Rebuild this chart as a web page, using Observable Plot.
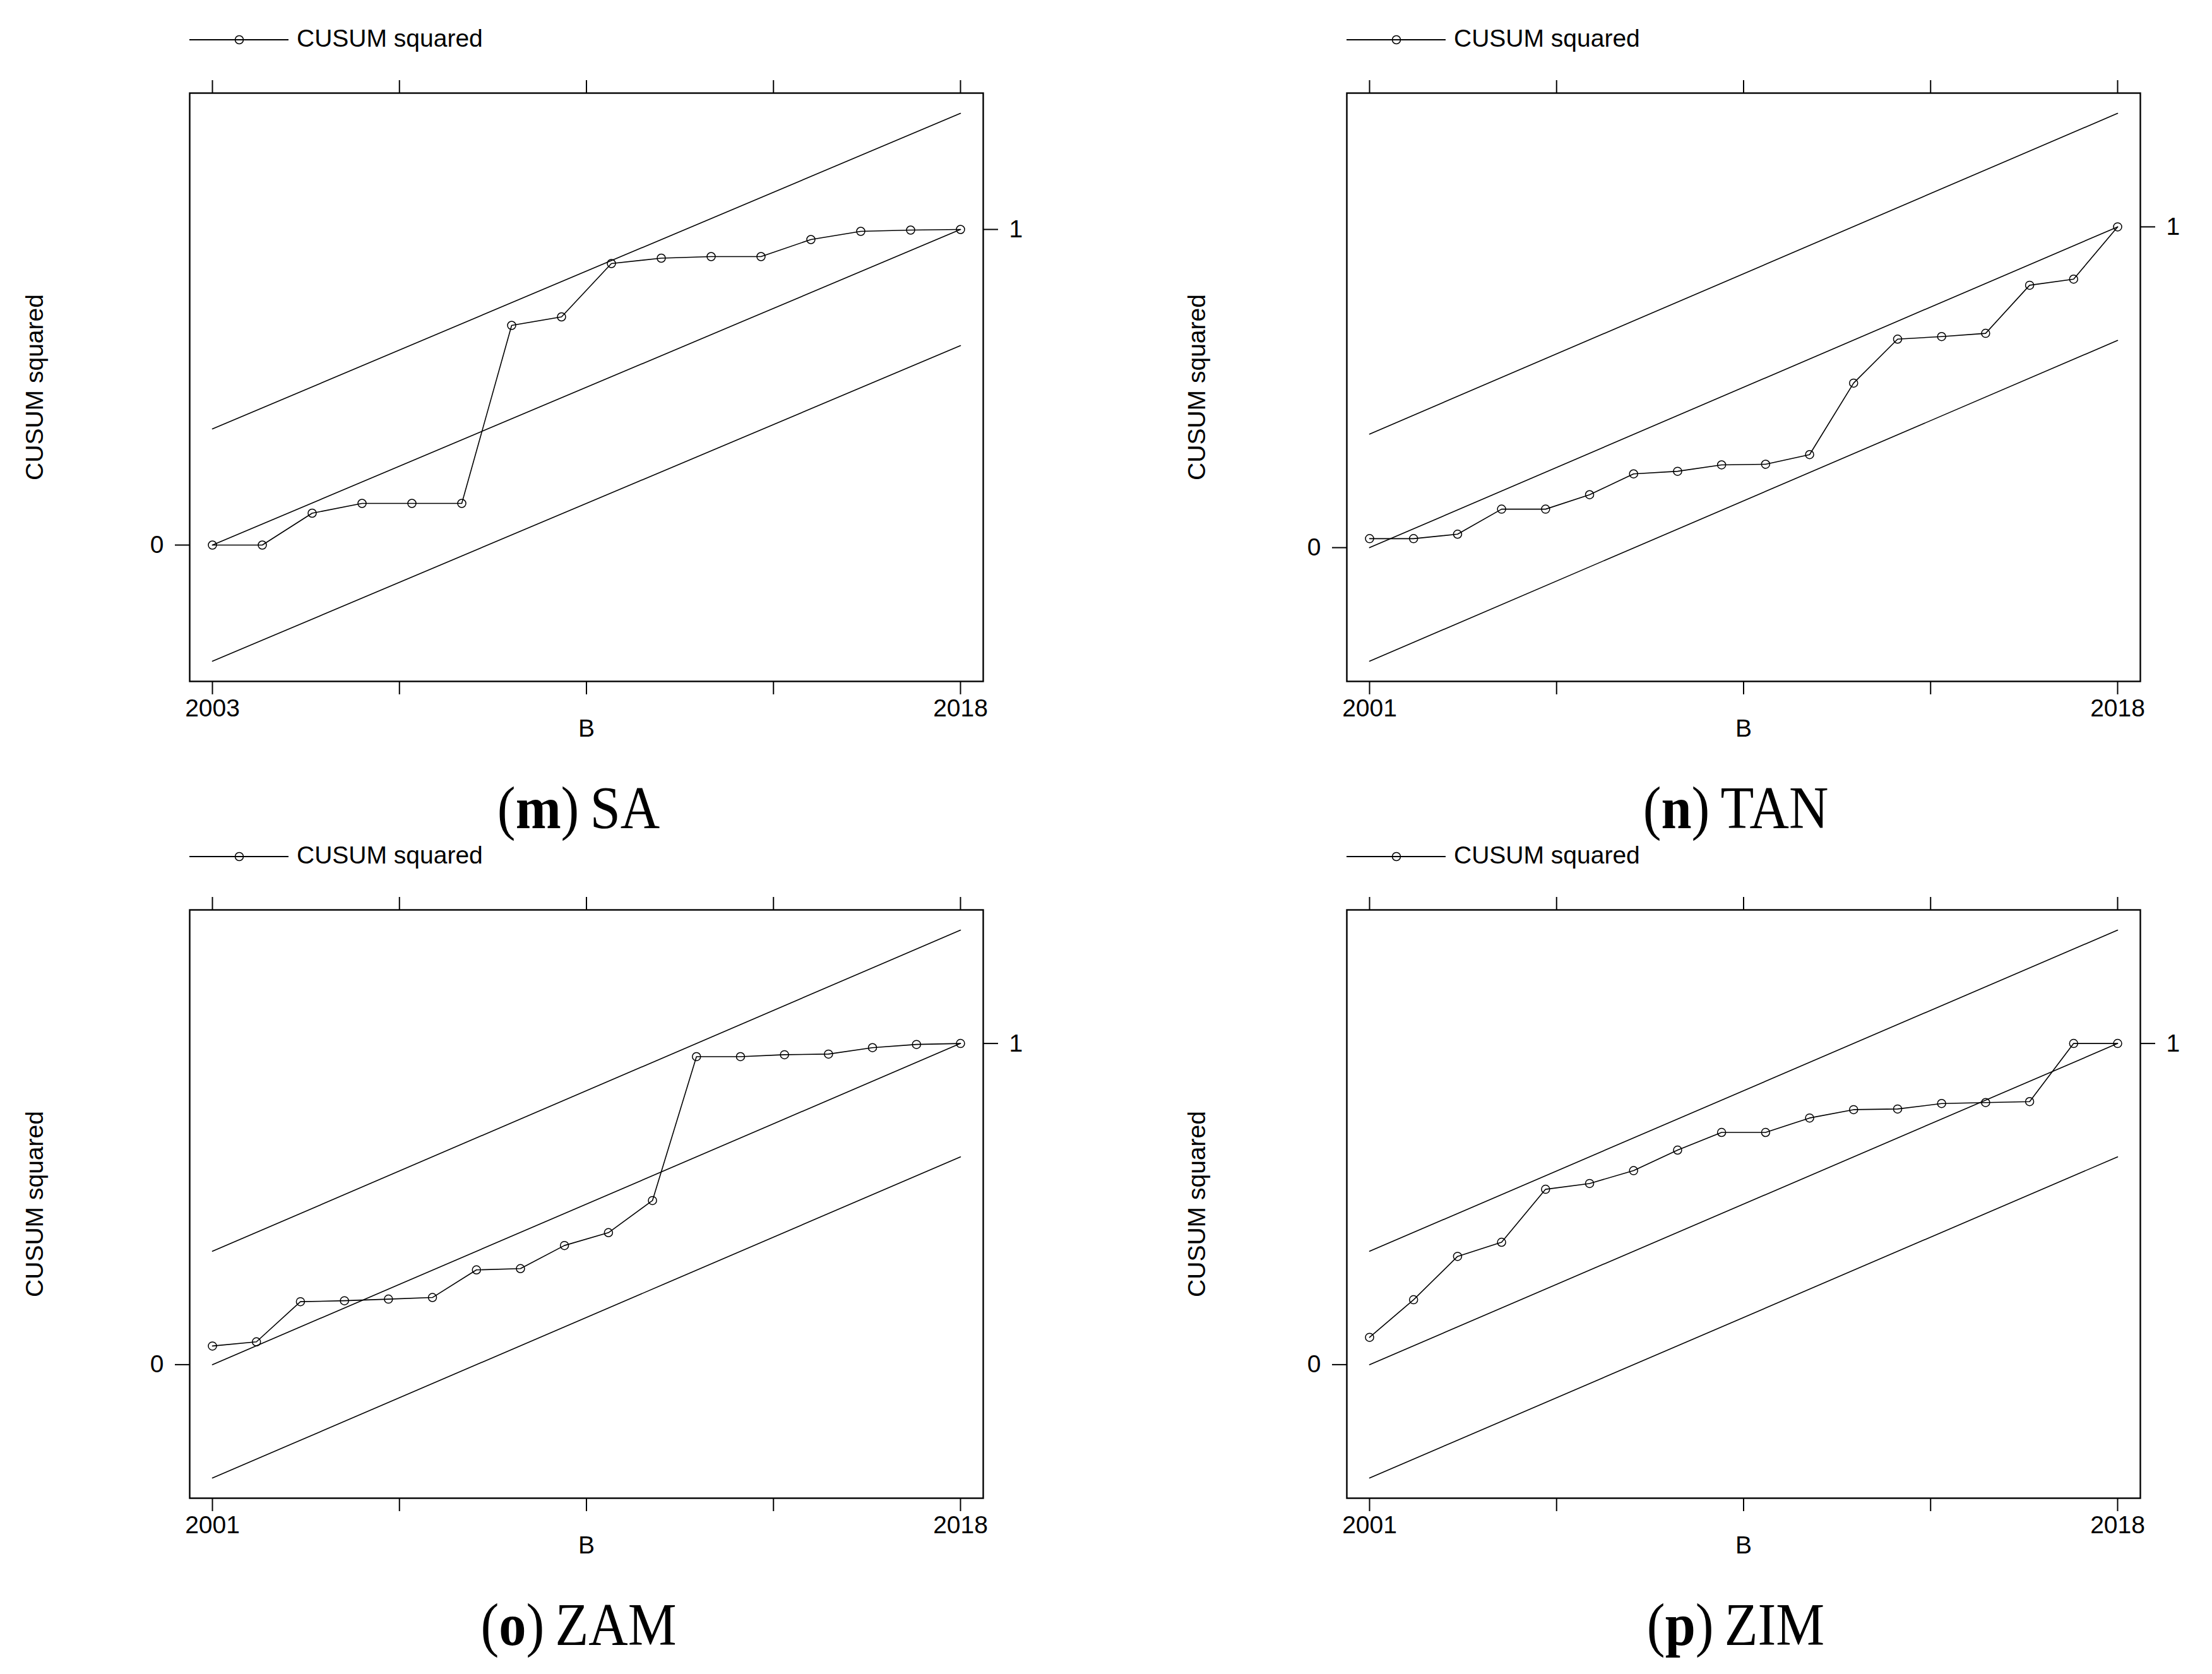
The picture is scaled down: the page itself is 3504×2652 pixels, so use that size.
<!DOCTYPE html>
<html>
<head>
<meta charset="utf-8">
<script src="https://cdn.jsdelivr.net/npm/d3@7"></script>
<script src="https://cdn.jsdelivr.net/npm/@observablehq/plot@0.6"></script>
<style>
  html, body { margin: 0; padding: 0; background: #fff; }
  body { width: 3504px; height: 2652px; position: relative; overflow: hidden; font-family: "Liberation Sans", Arial, sans-serif; }
  .panel-svg { position: absolute; }
  .legend { position: absolute; height: 48px; }
  .legend svg { position: absolute; left: 0; top: 0; }
  .legend span { position: absolute; left: 170px; top: 0px; font-size: 39px; line-height: 39px; white-space: nowrap; color: #000; }
  .caption { position: absolute; width: 1257px; text-align: center; font-family: "Times New Roman", Times, "Liberation Serif", Tinos, serif; font-size: 96px; line-height: 96px; font-weight: 400; color: #000; transform: scaleX(0.9); transform-origin: center; white-space: nowrap; }
</style>
</head>
<body>
<script>
// ---- data ----
const yearsSA  = [2003,2004,2005,2006,2007,2008,2009,2010,2011,2012,2013,2014,2015,2016,2017,2018];
const years01  = [2001,2002,2003,2004,2005,2006,2007,2008,2009,2010,2011,2012,2013,2014,2015,2016,2017,2018];

const cusumSA  = [0, 0, 0.101, 0.132, 0.132, 0.132, 0.696, 0.723, 0.892, 0.909, 0.914, 0.914, 0.968, 0.994, 0.998, 1.0];
const cusumTAN = [0.028, 0.028, 0.042, 0.120, 0.120, 0.165, 0.230, 0.238, 0.258, 0.260, 0.290, 0.513, 0.650, 0.658, 0.668, 0.818, 0.837, 1.0];
const cusumZAM = [0.058, 0.071, 0.196, 0.199, 0.204, 0.209, 0.295, 0.299, 0.371, 0.411, 0.511, 0.959, 0.959, 0.965, 0.967, 0.987, 0.997, 1.0];
const cusumZIM = [0.085, 0.202, 0.337, 0.381, 0.546, 0.564, 0.604, 0.668, 0.723, 0.723, 0.768, 0.794, 0.796, 0.813, 0.816, 0.819, 1.0, 1.0];

// 5% significance bounds (values at the first and last year)
const midLine  = [0, 1];
const upperSA  = [0.368, 1.368];
const lowerSA  = [-0.368, 0.632];
const upperTAN = [0.354, 1.354];
const lowerTAN = [-0.354, 0.646];
const upperZAM = [0.353, 1.353];
const lowerZAM = [-0.353, 0.647];
const upperZIM = [0.353, 1.353];
const lowerZIM = [-0.353, 0.647];

// axis ticks
const xTicksSA = [2003, 2006.75, 2010.5, 2014.25, 2018];
const xTicks01 = [2001, 2005.25, 2009.5, 2013.75, 2018];
const xLabelsSA = [2003, 2018];
const xLabels01 = [2001, 2018];
const yTickLeft = [0];
const yTickRight = [1];

const seriesName = "CUSUM squared";
const xName = "B";

// ---- layout ----
const FRAME_W = 1257, FRAME_H = 932;
const M_TOP = 47, M_BOTTOM = 130, M_LEFT = 300, M_RIGHT = 110;

const panels = [
  {letter: "m", name: "SA",  fl: 300,  ft: 147,  years: yearsSA, values: cusumSA,  upper: upperSA,  lower: lowerSA,  ticks: xTicksSA, labels: xLabelsSA, ylabDx: -245},
  {letter: "n", name: "TAN", fl: 2133, ft: 147,  years: years01, values: cusumTAN, upper: upperTAN, lower: lowerTAN, ticks: xTicks01, labels: xLabels01, ylabDx: -237},
  {letter: "o", name: "ZAM", fl: 300,  ft: 1441, years: years01, values: cusumZAM, upper: upperZAM, lower: lowerZAM, ticks: xTicks01, labels: xLabels01, ylabDx: -245},
  {letter: "p", name: "ZIM", fl: 2133, ft: 1441, years: years01, values: cusumZIM, upper: upperZIM, lower: lowerZIM, ticks: xTicks01, labels: xLabels01, ylabDx: -237}
];

for (const p of panels) {
  const x0 = p.years[0], x1 = p.years[p.years.length - 1];
  const pts = p.years.map((yr, i) => ({year: yr, v: p.values[i]}));
  const ends = [x0, x1];
  const seg = (ys) => ends.map((x, i) => ({year: x, v: ys[i]}));

  const chart = Plot.plot({
    width: M_LEFT + FRAME_W + M_RIGHT,
    height: M_TOP + FRAME_H + M_BOTTOM,
    marginLeft: M_LEFT, marginRight: M_RIGHT, marginTop: M_TOP, marginBottom: M_BOTTOM,
    style: {fontFamily: '"Liberation Sans", Arial, sans-serif', fontSize: "39px", background: "white", maxWidth: "none", overflow: "visible", color: "#000"},
    x: {domain: [x0, x1], inset: 36},
    y: {domain: [p.lower[0], p.upper[1]], inset: 32},
    marks: [
      Plot.frame({stroke: "#000", strokeWidth: 2.4}),
      Plot.axisX({anchor: "top", ticks: p.ticks, tickSize: 21, tickFormat: () => "", label: null, strokeWidth: 2}),
      Plot.axisX({anchor: "bottom", ticks: p.ticks, tickSize: 21, tickPadding: 7, label: null, strokeWidth: 2, fontSize: 39,
        tickFormat: d => p.labels.includes(d) ? String(d) : ""}),
      Plot.axisY({anchor: "left", ticks: yTickLeft, tickSize: 23, tickPadding: 18, label: null, strokeWidth: 2, fontSize: 39, tickFormat: d => String(d)}),
      Plot.axisY({anchor: "right", ticks: yTickRight, tickSize: 23, tickPadding: 18, label: null, strokeWidth: 2, fontSize: 39, tickFormat: d => String(d)}),
      Plot.line(seg(p.upper), {x: "year", y: "v", stroke: "#000", strokeWidth: 1.6}),
      Plot.line(seg(midLine), {x: "year", y: "v", stroke: "#000", strokeWidth: 1.6}),
      Plot.line(seg(p.lower), {x: "year", y: "v", stroke: "#000", strokeWidth: 1.6}),
      Plot.line(pts, {x: "year", y: "v", stroke: "#000", strokeWidth: 1.6}),
      Plot.dot(pts, {x: "year", y: "v", r: 6.5, stroke: "#000", strokeWidth: 1.5, fill: "none"}),
      Plot.text([xName], {text: d => d, frameAnchor: "bottom", dy: 87, fontSize: 39}),
      Plot.text([seriesName], {text: d => d, frameAnchor: "left", textAnchor: "middle", dx: p.ylabDx, rotate: -90, fontSize: 39})
    ]
  });
  chart.classList.add("panel-svg");
  chart.style.left = (p.fl - M_LEFT) + "px";
  chart.style.top = (p.ft - M_TOP) + "px";
  document.body.appendChild(chart);

  // legend above the plot
  const lg = document.createElement("div");
  lg.className = "legend";
  lg.style.left = p.fl + "px";
  lg.style.top = (p.ft - 147 + 39) + "px";
  lg.style.width = "600px";
  const sw = d3.create("svg").attr("width", 160).attr("height", 48);
  sw.append("line").attr("x1", 0).attr("x2", 157).attr("y1", 24).attr("y2", 24).attr("stroke", "#000").attr("stroke-width", 2);
  sw.append("circle").attr("cx", 79).attr("cy", 24).attr("r", 6.5).attr("fill", "none").attr("stroke", "#000").attr("stroke-width", 1.5);
  lg.appendChild(sw.node());
  const sp = document.createElement("span");
  sp.textContent = seriesName;
  sp.style.top = "2px";
  lg.appendChild(sp);
  document.body.appendChild(lg);

  // caption below the plot
  const cap = document.createElement("div");
  cap.className = "caption";
  cap.style.left = (p.fl - 12) + "px";
  cap.style.top = (p.ft - 147 + 1232) + "px";
  cap.innerHTML = "(<b>" + p.letter + "</b>)\u2009" + p.name;
  document.body.appendChild(cap);
}
</script>
</body>
</html>
